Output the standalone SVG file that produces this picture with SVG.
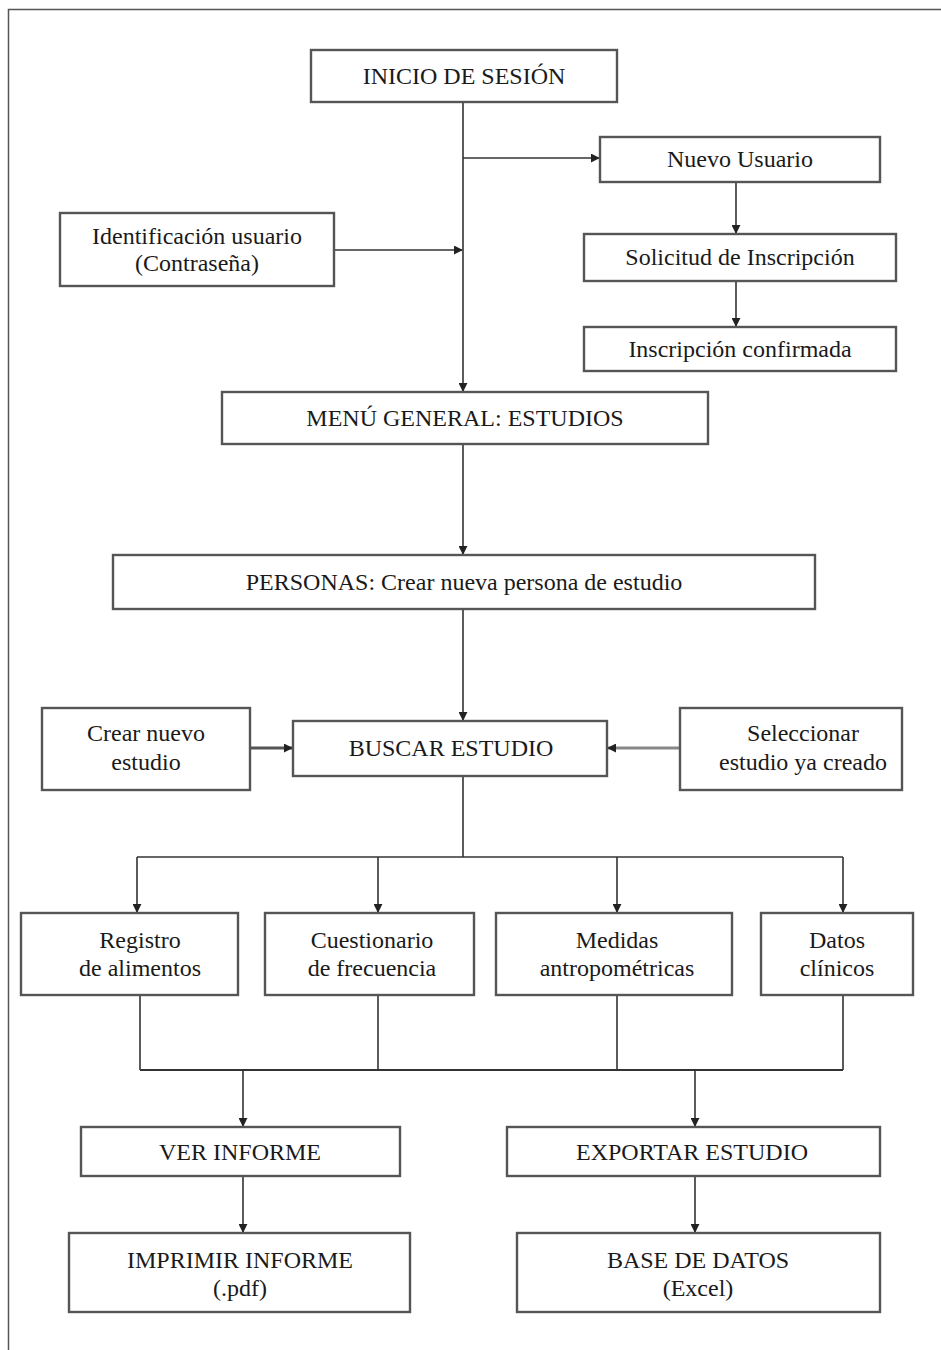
<svg xmlns="http://www.w3.org/2000/svg" width="941" height="1350" viewBox="0 0 941 1350">
<defs>
<marker id="ah" viewBox="0 0 10 10" refX="9" refY="5" markerWidth="9" markerHeight="9" markerUnits="userSpaceOnUse" orient="auto">
<path d="M0,0 L10,5 L0,10 z" fill="#222"/>
</marker>
</defs>
<style>
.box{fill:#fff;stroke:#555;stroke-width:2.4}
.t{font-family:"Liberation Serif","Times New Roman",serif;font-size:24px;fill:#1a1a1a;text-anchor:middle}
.c{fill:none;stroke:#333;stroke-width:1.6}
.a{marker-end:url(#ah)}
</style>
<rect width="941" height="1350" fill="#fff"/>
<path d="M8.5,1350 V9.5 H941" fill="none" stroke="#555" stroke-width="1.5"/>

<g id="connectors">
<path class="c a" d="M463,102 V391"/>
<path class="c a" d="M463,158 H599"/>
<path class="c a" d="M334,250 H462"/>
<path class="c a" d="M736,182 V233"/>
<path class="c a" d="M736,281 V326"/>
<path class="c a" d="M463,444 V554"/>
<path class="c a" d="M463,609 V720"/>
<path class="c a" style="stroke-width:3;stroke:#555" d="M250,748 H292"/>
<path class="c a" style="stroke-width:3;stroke:#888" d="M680,748 H608"/>
<path class="c" d="M463,776 V857"/>
<path class="c" d="M137,857 H843"/>
<path class="c a" d="M137,857 V912"/>
<path class="c a" d="M378,857 V912"/>
<path class="c a" d="M617,857 V912"/>
<path class="c a" d="M843,857 V912"/>
<path class="c" d="M140,995 V1070 M378,995 V1070 M617,995 V1070 M843,995 V1070"/>
<path class="c" style="stroke-width:2" d="M140,1070 H843"/>
<path class="c a" d="M243,1070 V1126"/>
<path class="c a" d="M695,1070 V1126"/>
<path class="c a" d="M243,1176 V1232"/>
<path class="c a" d="M695,1176 V1232"/>
</g>

<g id="inicio"><rect class="box" x="311" y="50" width="306" height="52"/><text class="t" x="464" y="84">INICIO DE SESIÓN</text></g>
<g id="nuevo"><rect class="box" x="600" y="137" width="280" height="45"/><text class="t" x="740" y="167">Nuevo Usuario</text></g>
<g id="solicitud"><rect class="box" x="584" y="234" width="312" height="47"/><text class="t" x="740" y="265">Solicitud de Inscripción</text></g>
<g id="confirmada"><rect class="box" x="584" y="327" width="312" height="44"/><text class="t" x="740" y="357">Inscripción confirmada</text></g>
<g id="identificacion"><rect class="box" x="60" y="213" width="274" height="73"/><text class="t" x="197" y="244">Identificación usuario</text><text class="t" x="197" y="271">(Contraseña)</text></g>
<g id="menu"><rect class="box" x="222" y="392" width="486" height="52"/><text class="t" x="465" y="426">MENÚ GENERAL: ESTUDIOS</text></g>
<g id="personas"><rect class="box" x="113" y="555" width="702" height="54"/><text class="t" x="464" y="590">PERSONAS: Crear nueva persona de estudio</text></g>
<g id="crear"><rect class="box" x="42" y="708" width="208" height="82"/><text class="t" x="146" y="741">Crear nuevo</text><text class="t" x="146" y="770">estudio</text></g>
<g id="buscar"><rect class="box" x="293" y="721" width="314" height="55"/><text class="t" x="451" y="756">BUSCAR ESTUDIO</text></g>
<g id="seleccionar"><rect class="box" x="680" y="708" width="222" height="82"/><text class="t" x="803" y="741">Seleccionar</text><text class="t" x="803" y="770">estudio ya creado</text></g>
<g id="registro"><rect class="box" x="21" y="913" width="217" height="82"/><text class="t" x="140" y="948">Registro</text><text class="t" x="140" y="976">de alimentos</text></g>
<g id="cuestionario"><rect class="box" x="265" y="913" width="209" height="82"/><text class="t" x="372" y="948">Cuestionario</text><text class="t" x="372" y="976">de frecuencia</text></g>
<g id="medidas"><rect class="box" x="496" y="913" width="236" height="82"/><text class="t" x="617" y="948">Medidas</text><text class="t" x="617" y="976">antropométricas</text></g>
<g id="datos"><rect class="box" x="761" y="913" width="152" height="82"/><text class="t" x="837" y="948">Datos</text><text class="t" x="837" y="976">clínicos</text></g>
<g id="ver"><rect class="box" x="81" y="1127" width="319" height="49"/><text class="t" x="240" y="1160">VER INFORME</text></g>
<g id="exportar"><rect class="box" x="507" y="1127" width="373" height="49"/><text class="t" x="692" y="1160">EXPORTAR ESTUDIO</text></g>
<g id="imprimir"><rect class="box" x="69" y="1233" width="341" height="79"/><text class="t" x="240" y="1268">IMPRIMIR INFORME</text><text class="t" x="240" y="1296">(.pdf)</text></g>
<g id="base"><rect class="box" x="517" y="1233" width="363" height="79"/><text class="t" x="698" y="1268">BASE DE DATOS</text><text class="t" x="698" y="1296">(Excel)</text></g>
</svg>
